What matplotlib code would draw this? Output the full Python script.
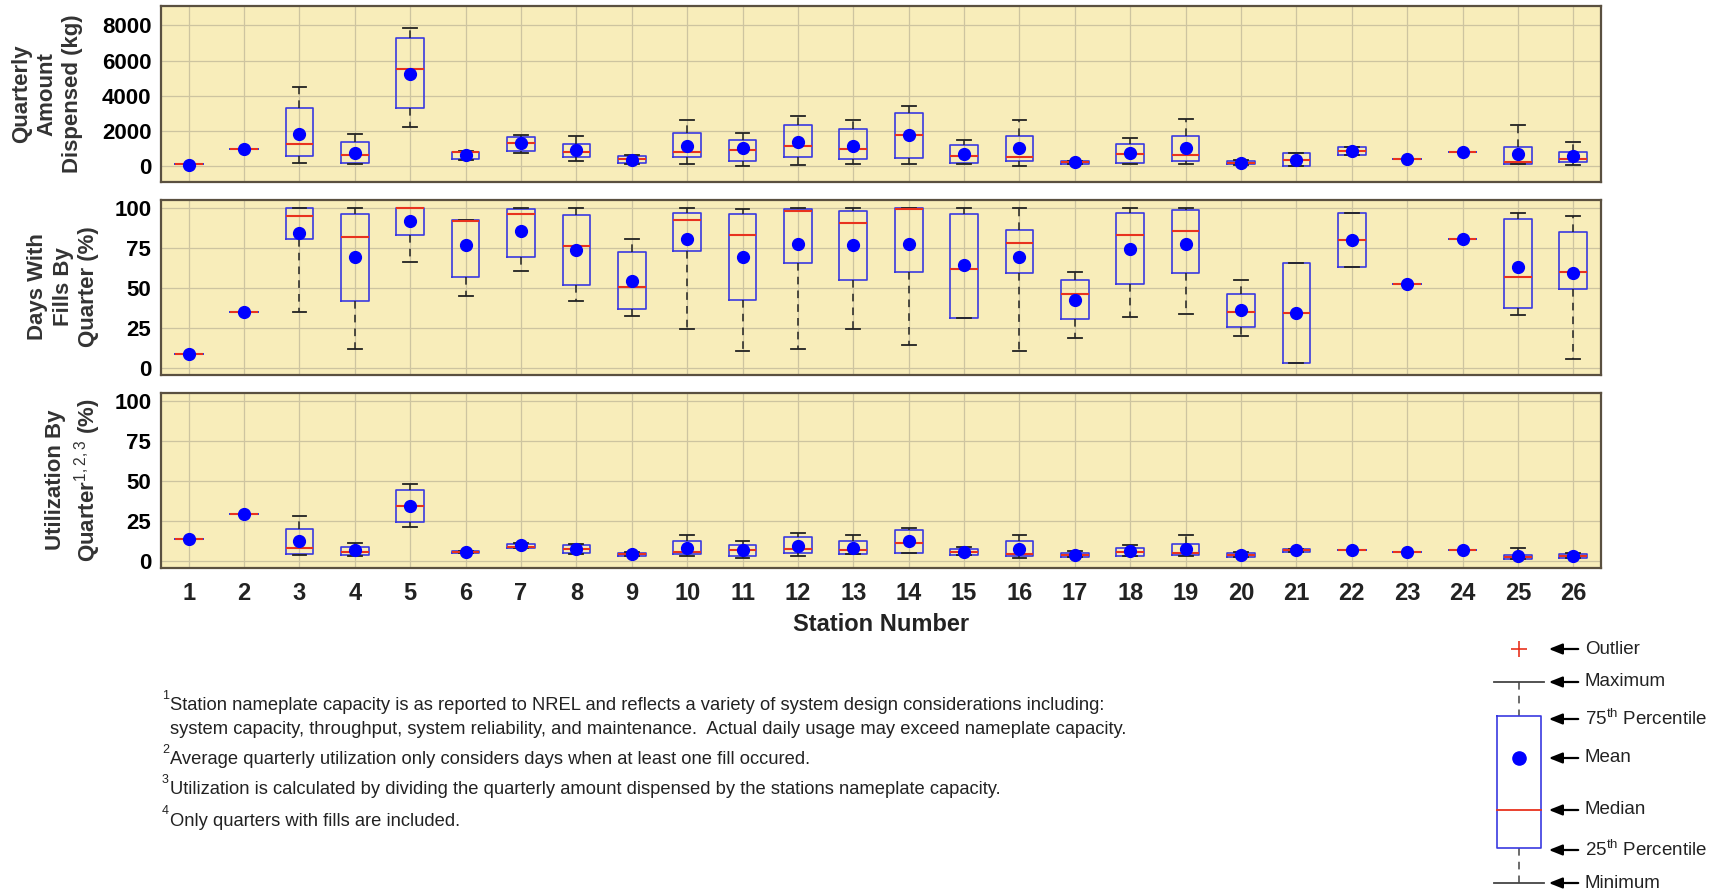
import matplotlib
matplotlib.use("Agg")
import matplotlib.pyplot as plt

plt.rcParams['font.family'] = ['Liberation Sans', 'DejaVu Sans']
plt.rcParams['mathtext.fontset'] = 'custom'
plt.rcParams['mathtext.rm'] = 'Liberation Sans'
plt.rcParams['mathtext.bf'] = 'Liberation Sans:bold'

stations = list(range(1, 27))

# Quarterly amount dispensed (kg)
amt_min  = [110, 950, 190, 95, 2230, 330, 720, 270, 130, 130, 20, 80, 150, 110, 130, 20, 120, 150, 150, 60, 0, 630, 420, 800, 95, 57]
amt_q1   = [110, 950, 570, 190, 3280, 420, 860, 510, 170, 510, 320, 510, 420, 480, 170, 290, 150, 190, 320, 120, 0, 630, 420, 800, 130, 210]
amt_med  = [110, 950, 1280, 630, 5520, 780, 1330, 820, 400, 820, 900, 1120, 950, 1750, 590, 510, 230, 670, 610, 190, 360, 860, 420, 800, 210, 400]
amt_q3   = [110, 950, 3280, 1350, 7280, 820, 1660, 1280, 570, 1870, 1500, 2320, 2120, 3030, 1200, 1710, 300, 1280, 1700, 300, 740, 1090, 420, 800, 1090, 800]
amt_max  = [110, 950, 4500, 1810, 7830, 850, 1770, 1730, 610, 2630, 1900, 2860, 2610, 3410, 1470, 2650, 320, 1600, 2670, 350, 740, 1090, 420, 800, 2320, 1370]
amt_mean = [80, 950, 1830, 760, 5240, 630, 1310, 930, 360, 1140, 1030, 1350, 1140, 1750, 690, 1010, 210, 740, 1030, 200, 340, 880, 400, 800, 670, 550]

# Days with fills by quarter (%)
day_min  = [8.3, 34.6, 34.6, 11.9, 65.8, 45, 60.4, 41.7, 32.3, 24, 10.6, 11.9, 24.4, 14, 31.3, 10.6, 18.5, 31.9, 33.5, 19.8, 3.1, 62.9, 52.1, 80.4, 32.9, 5.4]
day_q1   = [8.3, 34.6, 80.2, 41.7, 82.9, 56.5, 69, 51.7, 36.9, 72.9, 42.1, 65.6, 54.8, 59.6, 31.3, 59.4, 30.2, 52.1, 59.4, 25.6, 3.1, 62.9, 52.1, 80.4, 37.5, 49.2]
day_med  = [8.3, 34.6, 94.8, 81.9, 100, 91.9, 95.8, 76.3, 50.4, 92.3, 83.1, 98.1, 90.2, 99, 61.9, 78.1, 45.8, 82.9, 85.6, 35, 34.2, 80, 52.1, 80.4, 56.9, 60]
day_q3   = [8.3, 34.6, 100, 96, 100, 92.3, 99.2, 95.4, 72.5, 96.9, 95.8, 99, 98.1, 99.6, 96, 86, 54.8, 96.9, 98.5, 46, 65.2, 96.9, 52.1, 80.4, 92.9, 84.6]
day_max  = [8.3, 34.6, 100, 100, 100, 92.3, 100, 100, 80.4, 100, 99, 100, 100, 100, 100, 100, 59.8, 100, 100, 54.6, 65.2, 96.9, 52.1, 80.4, 96.7, 94.8]
day_mean = [8.3, 34.6, 84.4, 69, 91.9, 76.7, 85.2, 73.5, 54.2, 80.2, 69, 77.3, 76.5, 77.1, 64, 69.4, 42.3, 74.2, 77.1, 35.8, 34.4, 80, 52.1, 80.4, 62.7, 59.2]

# Utilization by quarter (%)
utl_min  = [13.75, 29.4, 3.75, 3.1, 21, 4.6, 7.9, 4.4, 3.1, 3.3, 1.5, 3.3, 4.2, 4.8, 3.5, 1.5, 2.5, 2.9, 3.1, 2.3, 5.8, 6.9, 5.2, 6.7, 1.25, 1.5]
utl_q1   = [13.75, 29.4, 4.2, 3.5, 24, 4.6, 7.9, 4.8, 3.3, 4.4, 3.3, 4.6, 4.4, 4.8, 3.5, 2.7, 2.5, 2.9, 3.5, 2.5, 5.8, 6.9, 5.2, 6.7, 1.25, 1.7]
utl_med  = [13.75, 29.4, 8.3, 5.6, 34, 5.4, 8.75, 7.3, 4.2, 5.8, 6.7, 7.3, 6.5, 11.25, 5.8, 4.2, 3.75, 5.4, 4.6, 3.75, 6.7, 6.9, 5.2, 6.7, 2.1, 2.9]
utl_q3   = [13.75, 29.4, 20, 8.75, 44.6, 6.25, 10.4, 9.6, 5, 12.1, 9.8, 14.6, 12.1, 19, 7.7, 12.1, 5, 8.3, 10.6, 4.8, 7.5, 6.9, 5.2, 6.7, 3.75, 4]
utl_max  = [13.75, 29.4, 27.9, 11.25, 47.9, 6.25, 11.25, 10.8, 5.4, 16.25, 12.1, 17.7, 16, 20.8, 8.5, 16.25, 6, 9.8, 16.25, 5.6, 7.5, 6.9, 5.2, 6.7, 7.9, 4.8]
utl_mean = [13.75, 29.4, 12.7, 6.5, 34, 5.2, 9.6, 7.1, 4.2, 7.9, 6.7, 9.4, 7.9, 12.3, 5.8, 7.3, 3.75, 6.25, 7.3, 3.5, 6.9, 6.9, 5.2, 6.7, 2.7, 2.9]

ylabels = ["Quarterly\nAmount\nDispensed (kg)",
           "Days With\nFills By\nQuarter (%)",
           "Utilization By\nQuarter$^{1,2,3}$ (%)"]
yticks_top = [0, 2000, 4000, 6000, 8000]
yticks_pct = [0, 25, 50, 75, 100]
footnotes = [("1", "Station nameplate capacity is as reported to NREL and reflects a variety of system design considerations including:"),
             ("", "system capacity, throughput, system reliability, and maintenance.  Actual daily usage may exceed nameplate capacity."),
             ("2", "Average quarterly utilization only considers days when at least one fill occured."),
             ("3", "Utilization is calculated by dividing the quarterly amount dispensed by the stations nameplate capacity."),
             ("4", "Only quarters with fills are included.")]
legend_labels = ["Outlier", "Maximum", "75$^{\\mathrm{th}}$ Percentile", "Mean", "Median",
                 "25$^{\\mathrm{th}}$ Percentile", "Minimum"]

W, H = 1720, 894
fig = plt.figure(figsize=(W / 100, H / 100), dpi=100)

BG = '#F8EDBA'
GRID = '#cdc4a0'
BOXC = '#3a3ae0'
MEDC = '#e8321e'

def px_axes(top, bottom, left=161, right=1601):
    return fig.add_axes([left / W, 1 - bottom / H, (right - left) / W, (bottom - top) / H])

panels = [
    (px_axes(6, 182), (amt_min, amt_q1, amt_med, amt_q3, amt_max, amt_mean), (-900, 9100), yticks_top),
    (px_axes(200, 375), (day_min, day_q1, day_med, day_q3, day_max, day_mean), (-4.6, 104.8), yticks_pct),
    (px_axes(393, 568), (utl_min, utl_q1, utl_med, utl_q3, utl_max, utl_mean), (-4.5, 105), yticks_pct),
]

for i, (ax, series, ylim, yt) in enumerate(panels):
    mn, q1, md, q3, mx, me = series
    stats = []
    for s, a, b, c, d, e, m in zip(stations, mn, q1, md, q3, mx, me):
        stats.append(dict(label=str(s), whislo=a, q1=b, med=c, q3=d, whishi=e, mean=m, fliers=[]))
    ax.set_facecolor(BG)
    ax.bxp(stats, positions=stations, widths=0.5, showmeans=True, manage_ticks=False,
           boxprops=dict(color=BOXC, lw=1.2),
           medianprops=dict(color=MEDC, lw=1.5),
           whiskerprops=dict(color='#222222', lw=1.1, ls=(0, (5, 4))),
           capprops=dict(color='#222222', lw=1.3),
           meanprops=dict(marker='o', markerfacecolor='#0000ff', markeredgecolor='#0000ff', markersize=8.5),
           zorder=3)
    ax.set_xlim(0.5, 26.5)
    ax.set_ylim(*ylim)
    ax.set_yticks(yt)
    ax.set_xticks(stations)
    ax.grid(True, color=GRID, lw=0.9)
    ax.set_axisbelow(True)
    ax.tick_params(length=0, labelsize=16, pad=7)
    for lab in ax.get_yticklabels():
        lab.set_fontweight('bold')
    for sp in ax.spines.values():
        sp.set_color('#5a5040')
        sp.set_linewidth(1.6)
    if i < 2:
        ax.set_xticklabels([])
    else:
        ax.set_xticklabels([str(s) for s in stations], fontsize=17, fontweight='bold', color='#222222')
        ax.tick_params(axis='x', pad=10)
        ax.set_xlabel("Station Number", fontsize=17, fontweight='bold', labelpad=6, color='#222222')

# overlay in pixel coordinates for labels, footnotes and legend
ov = fig.add_axes([0, 0, 1, 1], facecolor='none')
ov.set_xlim(0, W)
ov.set_ylim(H, 0)
ov.axis('off')

ylab_x = [47, 63, 74]
ylab_y = [94, 287, 480]
for lx, ly, txt in zip(ylab_x, ylab_y, ylabels):
    ov.text(lx, ly, txt, rotation=90, ha='center', va='center', multialignment='center',
            fontsize=16, fontweight='bold', color='#333333', linespacing=1.3)

fy = [706, 730, 760, 790, 821]
for (sup, txt), y in zip(footnotes, fy):
    if sup:
        ov.text(162, y - 10, sup, fontsize=9, ha='left', va='center', color='#222222')
    ov.text(170, y, txt, fontsize=13.2, ha='left', va='center', color='#222222')

# legend
cx = 1519
bl, br = 1497, 1541
ov.plot([cx], [649], marker='+', color='#e8321e', markersize=11, mew=1.2)
ov.plot([bl - 3, br + 3], [682, 682], color='#444444', lw=1.3)
ov.plot([bl - 3, br + 3], [883, 883], color='#444444', lw=1.3)
ov.plot([cx, cx], [682, 716], color='#444444', lw=1.1, ls=(0, (5, 4)))
ov.plot([cx, cx], [848, 883], color='#444444', lw=1.1, ls=(0, (5, 4)))
ov.plot([bl, br, br, bl, bl], [716, 716, 848, 848, 716], color='#3a3ae0', lw=1.2)
ov.plot([bl, br], [810, 810], color=MEDC, lw=1.3)
ov.plot([cx], [758], marker='o', color='#0000ff', markersize=9.5)
leg_y = [649, 682, 719, 758, 810, 850, 883]
for y, t in zip(leg_y, legend_labels):
    ov.annotate('', xy=(1546, y), xytext=(1581, y),
                arrowprops=dict(arrowstyle='-|>,head_length=0.8,head_width=0.32', color='black', lw=1.6))
    ov.text(1585, y, t, fontsize=13.5, ha='left', va='center', color='#222222')

fig.savefig('out.png', dpi=100)
